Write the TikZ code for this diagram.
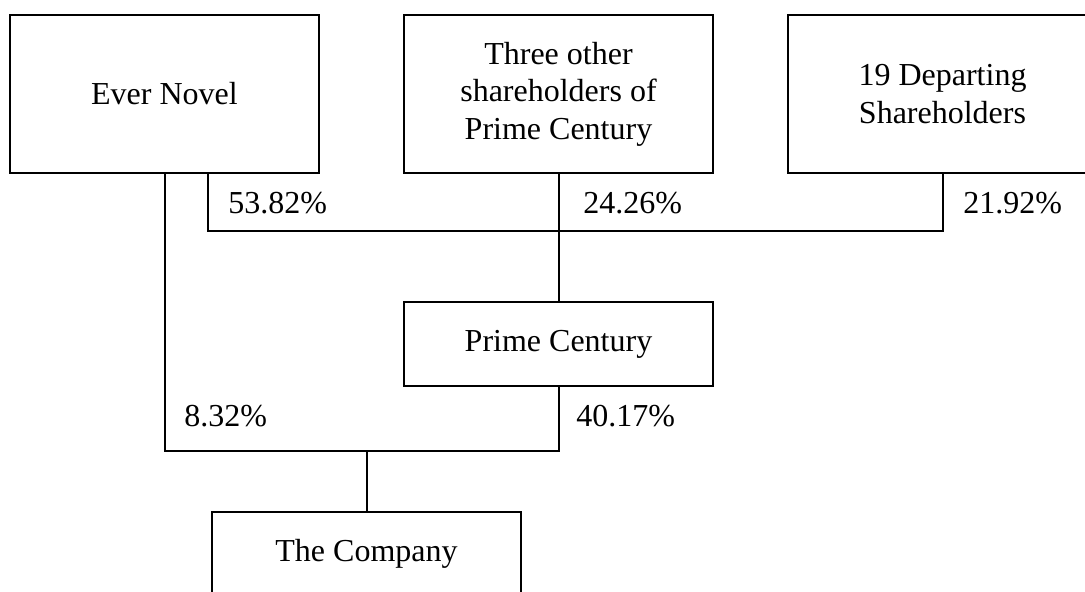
\documentclass[tikz,border=0pt]{standalone}
\usepackage{fontspec}
\setmainfont{Liberation Serif}
\usepackage{tikz}
\usetikzlibrary{positioning}
\tikzset{%
	holder/.style={
		rectangle,
		draw,
		line width=1pt,
		align=center,
		inner sep=0pt,
		minimum width=154.5pt,
		font=\fontsize{16}{18.75}\selectfont
	},
	holder-top/.style={ minimum height=79pt },
	holder-low/.style={ minimum height=42pt },
	share/.style={
		inner sep=0pt,
		anchor=base west,
		font=\fontsize{16}{18.75}\selectfont
	},
	link/.style={ line width=1pt },
}

\begin{document}
\begin{tikzpicture}[x=0.5pt, y=-0.5pt]
\useasboundingbox (0,0) rectangle (1085,592);
\clip (0,0) rectangle (1085,592);

% shareholders
\node[holder, holder-top] (novel) at (164.5,94) {Ever Novel};
\node[holder, holder-top] (others) at (558.5,94) {Three other\\shareholders of\\Prime Century};
\node[holder, holder-top] (departing) at (942.5,94) {19 Departing\\Shareholders};

% companies
\node[holder, holder-low] (prime) at (558.5,344) {Prime Century};
\node[holder, holder-low] (company) at (366.5,554) {The Company};

% joints
\coordinate (bus-l) at (208,231);
\coordinate (bus-r) at (942.5,231);
\coordinate (low-l) at (164.5,451);
\coordinate (low-r) at (558.5,451);
\coordinate (low-m) at (366.5,451);

% connections
\draw[link] (novel.south -| bus-l) -- (bus-l) -- (bus-r) -- (departing.south);
\draw[link] (others.south) -- (prime.north);
\draw[link] (novel.south) -- (low-l) -- (low-r) -- (prime.south);
\draw[link] (low-m) -- (company.north);

% share labels
\foreach \p/\x/\y [count=\i] in {53.82/228/214, 24.26/583/214, 21.92/963/214, 8.32/184/426, 40.17/576/426}
	\node[share] (share-\i) at (\x,\y) {\p\%};

\end{tikzpicture}
\end{document}
